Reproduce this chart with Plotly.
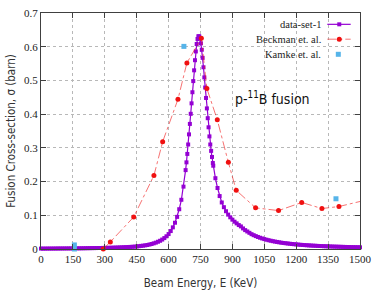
import plotly.graph_objects as go

# ---------------- data ----------------
ds1_energy = [0, 10, 20, 30, 40, 50, 60, 70, 80, 90, 100, 110, 120, 130, 140, 150, 160, 170, 180, 190,
              200, 210, 220, 230, 240, 250, 260, 270, 280, 290, 300, 310, 320, 330, 340, 350, 360, 370, 380, 390,
              400, 410, 420, 430, 440, 450, 460, 470, 480, 490, 500, 510, 520, 530, 540, 550, 560, 570, 580, 590,
              600, 610, 620, 630, 640, 650, 660, 670, 680,
              684, 688, 692, 696, 700, 704, 708, 712, 716, 720, 724, 728, 732, 736, 740,
              744, 748, 752, 756, 760, 764, 768, 772, 776, 780, 784, 788, 792, 796, 800, 804, 808,
              810, 820, 830, 840, 850, 860, 870, 880, 890, 900, 910, 920, 930, 940, 950, 960, 970, 980, 990,
              1000, 1010, 1020, 1030, 1040, 1050, 1060, 1070, 1080, 1090, 1100, 1110, 1120, 1130, 1140, 1150,
              1160, 1170, 1180, 1190, 1200, 1210, 1220, 1230, 1240, 1250, 1260, 1270, 1280, 1290, 1300,
              1310, 1320, 1330, 1340, 1350, 1360, 1370, 1380, 1390, 1400, 1410, 1420, 1430, 1440, 1450,
              1460, 1470, 1480, 1490, 1500]
ds1_sigma = [0.0012, 0.0012, 0.0012, 0.0013, 0.0013, 0.0013, 0.0014, 0.0014, 0.0015, 0.0015,
             0.0016, 0.0016, 0.0017, 0.0017, 0.0018, 0.0018, 0.0019, 0.0020, 0.0020, 0.0021,
             0.0022, 0.0023, 0.0024, 0.0025, 0.0026, 0.0027, 0.0028, 0.0029, 0.0030, 0.0032,
             0.0033, 0.0035, 0.0036, 0.0038, 0.0040, 0.0042, 0.0044, 0.0047, 0.0049, 0.0052,
             0.0055, 0.0058, 0.0062, 0.0066, 0.0070, 0.0075, 0.0083, 0.0092, 0.0099, 0.0108,
             0.0119, 0.0133, 0.0149, 0.0168, 0.0189, 0.0215, 0.0244, 0.0280, 0.0324, 0.0377,
             0.0443, 0.0532, 0.0642, 0.0779, 0.0953, 0.118, 0.146, 0.185, 0.234,
             0.257, 0.282, 0.310, 0.340, 0.371, 0.401, 0.432, 0.465, 0.498, 0.530, 0.560, 0.586, 0.608, 0.623, 0.631,
             0.631, 0.624, 0.610, 0.591, 0.567, 0.539, 0.509, 0.479, 0.448, 0.417, 0.388, 0.361, 0.334, 0.310, 0.291, 0.273, 0.255,
             0.247, 0.210, 0.181, 0.157, 0.138, 0.124, 0.112, 0.102, 0.094, 0.087, 0.081, 0.076, 0.071, 0.067, 0.061,
             0.056, 0.052, 0.048, 0.044,
             0.0410, 0.0382, 0.0357, 0.0334, 0.0313, 0.0294, 0.0276, 0.0260, 0.0246, 0.0232, 0.0220,
             0.0209, 0.0198, 0.0188, 0.0179, 0.0171, 0.0163, 0.0156, 0.0149, 0.0142, 0.0136,
             0.0131, 0.0125, 0.0120, 0.0116, 0.0111, 0.0107, 0.0103, 0.0099, 0.0096, 0.0092,
             0.0089, 0.0086, 0.0083, 0.0081, 0.0078, 0.0076, 0.0073, 0.0071, 0.0069, 0.0067,
             0.0065, 0.0063, 0.0061, 0.0059, 0.0058, 0.0056, 0.0055, 0.0053, 0.0052, 0.0050]

beckman_energy = [293, 326, 436, 531, 572, 644, 686, 754, 780, 829, 881, 918, 1009, 1117, 1226, 1321, 1401, 1560]
beckman_sigma = [0.000, 0.021, 0.095, 0.218, 0.318, 0.444, 0.552, 0.625, 0.476, 0.383, 0.257, 0.174,
                 0.122, 0.114, 0.138, 0.120, 0.126, 0.150]

kamke_energy = [157, 157, 672, 1387]
kamke_sigma = [0.000, 0.012, 0.601, 0.149]

x_ticks = [0, 150, 300, 450, 600, 750, 900, 1050, 1200, 1350, 1500]
y_ticks = [0, 0.1, 0.2, 0.3, 0.4, 0.5, 0.6, 0.7]
y_tick_labels = ["0", "0.1", "0.2", "0.3", "0.4", "0.5", "0.6", "0.7"]

series_names = ["data-set-1", "Beckman et. al.", "Kamke et. al."]
title_x = "Beam Energy, E (KeV)"
title_y = "Fusion Cross-section, σ (barn)"
label_text = "p-<sup>11</sup>B fusion"

# ---------------- style ----------------
PURPLE = "#9400d3"
RED = "#f01010"
BLUE = "#56b4e9"
SERIF = "Liberation Serif, Times New Roman, serif"
SANS = "DejaVu Sans Condensed, DejaVu Sans, sans-serif"

fig = go.Figure()

fig.add_trace(go.Scatter(
    x=ds1_energy, y=ds1_sigma, mode="lines+markers", name=series_names[0],
    line=dict(color=PURPLE, width=1.2),
    marker=dict(symbol="square", size=4, color=PURPLE, line=dict(width=0)),
    cliponaxis=False, showlegend=False))

# Beckman: dashed connecting line (clipped at the frame) and the dots
fig.add_trace(go.Scatter(
    x=beckman_energy, y=beckman_sigma, mode="lines", name=series_names[1],
    line=dict(color="rgba(240,30,30,0.7)", width=0.9, dash="dashdot"),
    showlegend=False))
fig.add_trace(go.Scatter(
    x=beckman_energy[:-1], y=beckman_sigma[:-1], mode="markers", name=series_names[1],
    marker=dict(symbol="circle", size=5, color=RED, line=dict(width=0)),
    cliponaxis=False, showlegend=False))

fig.add_trace(go.Scatter(
    x=kamke_energy, y=kamke_sigma, mode="markers", name=series_names[2],
    marker=dict(symbol="square", size=5, color=BLUE, line=dict(width=0)),
    cliponaxis=False, showlegend=False))

axis_common = dict(
    showline=True, linecolor="#404040", linewidth=1, mirror="ticks",
    ticks="inside", ticklen=5, tickcolor="#404040", tickwidth=1,
    showgrid=True, gridcolor="#b8b8b8", gridwidth=1, griddash="dot",
    zeroline=False, automargin=False,
    tickfont=dict(family=SERIF, size=11, color="#222222"),
)

fig.update_xaxes(range=[0, 1500], tickvals=x_ticks, ticktext=[str(v) for v in x_ticks],
                 title=dict(text=title_x, font=dict(family=SANS, size=11.5, color="#333333"), standoff=14),
                 **axis_common)
fig.update_yaxes(range=[0, 0.7], tickvals=y_ticks, ticktext=y_tick_labels,
                 title=dict(text=title_y, font=dict(family=SANS, size=11.5, color="#333333"), standoff=6),
                 **axis_common)

# legend drawn gnuplot-style (text right-aligned, key on the right)
legend_rows = [0.952, 0.889, 0.825]
for name, ypos in zip(series_names, legend_rows):
    fig.add_annotation(x=0.885, y=ypos, xref="paper", yref="paper", text=name,
                       showarrow=False, xanchor="right", yanchor="middle",
                       font=dict(family=SERIF, size=10.5, color="#222222"))

PXW, PXH = 319.0, 236.0
def px(dx):
    return dx / PXW
def py(dy):
    return dy / PXH

shapes = []
# data-set-1 key
shapes.append(dict(type="line", xref="paper", yref="paper", x0=0.8975, x1=0.9708,
                   y0=legend_rows[0], y1=legend_rows[0], line=dict(color=PURPLE, width=1.2)))
shapes.append(dict(type="rect", xref="paper", yref="paper", x0=0.935 - px(2), x1=0.935 + px(2),
                   y0=legend_rows[0] - py(2), y1=legend_rows[0] + py(2),
                   fillcolor=PURPLE, line=dict(width=0)))
# Beckman key
shapes.append(dict(type="line", xref="paper", yref="paper", x0=0.8975, x1=0.9708,
                   y0=legend_rows[1], y1=legend_rows[1],
                   line=dict(color="rgba(240,30,30,0.7)", width=0.9, dash="dashdot")))
shapes.append(dict(type="circle", xref="paper", yref="paper", x0=0.935 - px(2.5), x1=0.935 + px(2.5),
                   y0=legend_rows[1] - py(2.5), y1=legend_rows[1] + py(2.5),
                   fillcolor=RED, line=dict(width=0)))
# Kamke key
shapes.append(dict(type="rect", xref="paper", yref="paper", x0=0.932 - px(2.5), x1=0.932 + px(2.5),
                   y0=legend_rows[2] - py(2.5), y1=legend_rows[2] + py(2.5),
                   fillcolor=BLUE, line=dict(width=0)))

fig.add_annotation(x=0.601, y=0.64, xref="paper", yref="paper", text=label_text,
                   showarrow=False, xanchor="left", yanchor="middle",
                   font=dict(family=SANS, size=14, color="#111111"))

fig.update_layout(
    width=374, height=291,
    margin=dict(l=41, r=14, t=13, b=42, autoexpand=False),
    paper_bgcolor="white", plot_bgcolor="white",
    shapes=shapes, showlegend=False,
)

# remove the default page margin so the figure sits at the window's top-left corner
fig.write_html("out.html",
               config={"displayModeBar": False},
               post_script="document.body.style.margin='0';document.body.style.overflow='hidden';")
